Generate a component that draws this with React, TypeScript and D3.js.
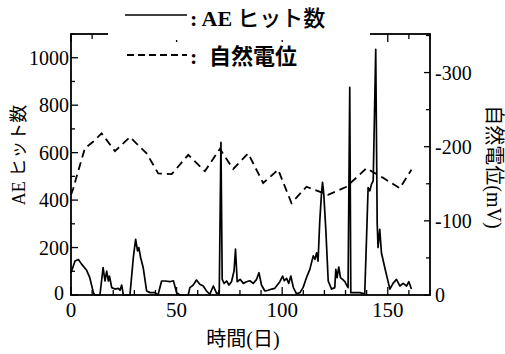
import * as d3 from "d3";

// AE hit counts (day, hits)
const aeDays = [
  0, 1.9, 3.5, 5.1, 7.4, 8.9, 10.6, 11.2, 13.7, 15.2, 16.1, 16.9, 17.7, 18.2, 19.3, 20.8, 22.4, 23.2, 24, 24.8,
  27.9, 28.8, 29.5, 30.6, 31.5, 32.1, 33, 34.2, 35.8, 37.4, 39.7, 41.2, 42.9, 44.5, 46.8, 48.5, 50, 51.6,
  55.5, 56.3, 57.9, 59.4, 61, 62.6, 64.2, 65.7, 67.4, 68.9, 70.2, 71, 71.6, 72.5, 73.7, 74.8, 76, 77.2, 77.9,
  78.7, 80.1, 81.6, 83.1, 84.7, 86.3, 87.9, 89, 90.2, 91.8, 93.4, 95, 96.5, 98.9, 100.2, 101, 102.1, 103.1,
  104.1, 105.3, 106.8, 108.4, 109.9, 111.5, 113.1, 114.7, 115.5, 116.3, 117, 117.8, 118.6, 119.1, 119.7,
  120.7, 121.8, 123.4, 124.9, 125.4, 126, 126.8, 127.6, 128.6, 129.7, 130.5, 131.2, 132, 132.5, 134.4,
  136.8, 139.1, 139.9, 140.7, 141.5, 142.3, 143.1, 144.3, 145, 145.4, 146.2, 147, 148.6, 149.9, 151,
  152.5, 154.1, 155.7, 157.3, 158.9, 160, 161.2,
];
const aeHits = [
  94, 143, 150, 129, 104, 73, 10, 0, 0, 115, 59, 101, 59, 80, 31, 25, 28, 20, 42, 0,
  0, 87, 157, 235, 186, 200, 157, 115, 17, 10, 10, 0, 59, 59, 56, 60, 10, 0,
  0, 31, 42, 63, 45, 38, 17, 3, 38, 8, 8, 643, 66, 49, 59, 42, 56, 101, 193,
  56, 66, 49, 56, 60, 49, 66, 94, 42, 17, 20, 25, 28, 56, 80, 60, 70, 49,
  80, 31, 5, 10, 31, 73, 108, 165, 150, 178, 143, 312, 425, 475, 425,
  270, 59, 25, 31, 108, 73, 118, 73, 66, 56, 42, 31, 875, 10, 10,
  10, 5, 228, 453, 439, 467, 481, 1035, 300, 200, 277, 178, 115, 66, 25,
  49, 66, 38, 49, 38, 56, 25,
];

// self potential (day, mV)
const spDays = [
  0, 1.1, 2.7, 6.6, 10.6, 14.5, 20.8, 27.9, 35.8, 41.3, 47.7, 55.5, 63.4, 70.5, 76.8, 83.9, 91, 98.1,
  104.4, 111.5, 121.8, 130.5, 139.9, 147.8, 155.7, 161.2,
];
const spValues = [
  -135, -144, -160, -198, -207, -218, -194, -213, -191, -164, -163, -189, -167, -197, -170, -191, -151, -169,
  -124, -146, -135, -146, -171, -158, -144, -169,
];

const xTicks = [0, 50, 100, 150];
const leftTicks = [0, 200, 400, 600, 800, 1000];
const rightTicks = [0, -100, -200, -300];

const W = 505;
const H = 354;
const left = 71, right = 430, top = 34, bottom = 295;
const serif = "'Liberation Serif', 'Times New Roman', 'Noto Sans CJK JP', serif";
const cjk = "'Noto Sans CJK JP', sans-serif";

export default function App() {
  const x = d3.scaleLinear().domain([0, 170]).range([left, right]);
  const yL = d3.scaleLinear().domain([0, 1100]).range([bottom, top]);
  const yR = d3.scaleLinear().domain([0, -352]).range([bottom, top]);

  const aeLine = d3.line<number>()
    .x((_, i) => x(aeDays[i]))
    .y(d => yL(d));
  const spLine = d3.line<number>()
    .x((_, i) => x(spDays[i]))
    .y(d => yR(d));

  const xMinor = d3.range(0, 171, 10);
  const lMinor = d3.range(0, 1101, 100);
  const rMinor = d3.range(0, -351, -50);

  return (
    <svg width={W} height={H} style={{ position: "absolute", left: 0, top: 0, background: "#fff" }}>
      <g stroke="#000" strokeWidth={1.3}>
        {xMinor.map(t => {
          const len = t % 50 === 0 ? 8 : 5;
          return (
            <g key={"x" + t}>
              <line x1={x(t)} x2={x(t)} y1={bottom} y2={bottom - len} />
              <line x1={x(t)} x2={x(t)} y1={top} y2={top + len} />
            </g>
          );
        })}
        {lMinor.map(t => (
          <line key={"l" + t} x1={left} x2={left + (t % 200 === 0 ? 7 : 4)} y1={yL(t)} y2={yL(t)} />
        ))}
        {rMinor.map(t => (
          <line key={"r" + t} x1={right} x2={right - (t % 100 === 0 ? 6 : 4)} y1={yR(t)} y2={yR(t)} />
        ))}
      </g>

      <path d={spLine(spValues) ?? ""} fill="none" stroke="#000" strokeWidth={1.8} strokeDasharray="8,5" />
      <path d={aeLine(aeHits) ?? ""} fill="none" stroke="#000" strokeWidth={1.7} strokeLinejoin="round" />

      <rect x={left} y={top} width={right - left} height={bottom - top} fill="none" stroke="#000" strokeWidth={1.8} />
      {/* legend covers part of the top border */}
      <rect x={108} y={top - 4} width={262} height={10} fill="#fff" />

      <g fontFamily={serif} fontSize={20} fill="#000">
        {xTicks.map(t => (
          <text key={"xt" + t} x={x(t)} y={317} textAnchor="middle" fontSize={21}>{t}</text>
        ))}
        {leftTicks.map(t => (
          <text key={"lt" + t} x={left - (t === 0 ? 7 : 2)} y={yL(t) - (t === 0 ? 2 : 0)} dy="0.35em" textAnchor="end">{t}</text>
        ))}
        {rightTicks.map(t => (
          <text key={"rt" + t} x={right + 5} y={yR(t)} dy="0.35em" textAnchor="start">{String(t)}</text>
        ))}
      </g>

      <text x={243} y={346} textAnchor="middle" fontFamily={serif} fontSize={20}>時間(日)</text>
      <text transform="translate(25,155) rotate(-90)" textAnchor="middle" fontFamily={serif} fontSize={18}>AE ヒット数</text>
      <text transform="translate(487,167) rotate(90)" textAnchor="middle" fontFamily={serif} fontSize={20}>自然電位(mV)</text>

      <line x1={125} x2={187} y1={15} y2={15} stroke="#000" strokeWidth={1.6} />
      <text x={190} y={26} fontFamily={serif} fontSize={22}>
        <tspan fontWeight="bold">: AE</tspan>
        <tspan dx={5} fontFamily={cjk} fontWeight={500}>ヒット数</tspan>
      </text>
      <line x1={127} x2={187} y1={55} y2={55} stroke="#000" strokeWidth={1.8} strokeDasharray="7,4" />
      <text x={190} y={64} fontFamily={serif} fontSize={22} fontWeight="bold">
        <tspan>:</tspan>
        <tspan x={209} fontFamily={cjk}>自然電位</tspan>
      </text>
    </svg>
  );
}
